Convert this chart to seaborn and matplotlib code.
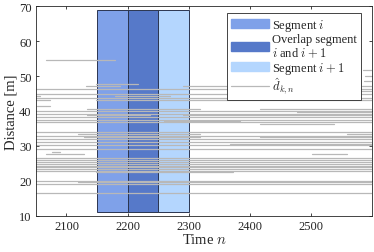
import matplotlib
matplotlib.use("Agg")
import matplotlib.pyplot as plt
import matplotlib.patches as mpatches
import pandas as pd
import seaborn as sns

# distance tracks: value [m], start n, end n
track_d = [54.6, 51.8, 49.9, 48.7, 47.7, 47.1, 47.1, 47.1, 46.3, 45.8,
           44.9, 44.2, 44.2, 43.6, 43.2, 43.2, 41.3, 40.6, 40.6, 40.1,
           39.6, 39.2, 38.7, 38.7, 38.2, 37.5, 37.2, 36.8, 36.3, 33.9,
           33.4, 33.4, 32.9, 32.5, 32.5, 32.0, 31.0, 30.6, 30.1, 29.1,
           28.2, 27.7, 27.7, 26.4, 25.8, 25.3, 24.8, 24.3, 23.8, 23.4,
           22.9, 22.4, 20.0, 19.6, 19.1, 16.5]
track_start = [2066, 2585, 2589, 2587, 2149, 2132, 2290, 2584, 2050, 2382,
               2050, 2050, 2180, 2050, 2050, 2149, 2051, 2133, 2417, 2050,
               2477, 2050, 2133, 2291, 2050, 2050, 2259, 2050, 2417, 2050,
               2119, 2559, 2050, 2128, 2417, 2050, 2050, 2368, 2050, 2050,
               2076, 2067, 2502, 2050, 2050, 2050, 2050, 2050, 2050, 2050,
               2050, 2149, 2050, 2119, 2050, 2050]
track_end = [2180, 2600, 2600, 2600, 2217, 2188, 2363, 2600, 2600, 2600,
             2600, 2057, 2270, 2600, 2073, 2600, 2073, 2319, 2600, 2600,
             2600, 2600, 2237, 2600, 2600, 2600, 2384, 2600, 2537, 2600,
             2319, 2600, 2600, 2319, 2600, 2600, 2600, 2600, 2600, 2600,
             2089, 2128, 2559, 2600, 2600, 2600, 2600, 2600, 2600, 2600,
             2600, 2373, 2600, 2600, 2600, 2600]

# processing segments
seg_labels = ["Segment $i$", "Overlap segment\n$i$ and $i+1$", "Segment $i+1$"]
seg_start = [2150, 2200, 2250]
seg_end = [2200, 2250, 2300]
seg_colors = ["#7fa1e9", "#5679c9", "#b4d6fe"]
seg_low, seg_high = 11, 69

rows = []
for k, (d, a, b) in enumerate(zip(track_d, track_start, track_end)):
    rows.append({"k": k, "n": a, "d": d})
    rows.append({"k": k, "n": b, "d": d})
df = pd.DataFrame(rows)

sns.set_theme(style="ticks")
plt.rcParams["font.family"] = ["Liberation Serif", "DejaVu Serif"]
plt.rcParams["mathtext.fontset"] = "cm"

fig = plt.figure(figsize=(3.74, 2.53), dpi=100)
ax = fig.add_axes([0.096, 0.144, 0.899, 0.827])

for s, e, c in zip(seg_start, seg_end, seg_colors):
    ax.bar((s + e) / 2, seg_high - seg_low, width=e - s, bottom=seg_low,
           color=c, edgecolor="#2b3550", linewidth=0.7, zorder=1)

sns.lineplot(data=df, x="n", y="d", units="k", estimator=None, ax=ax,
             color="#b8b8b8", linewidth=0.9, zorder=2, legend=False)

ax.set_xlim(2050, 2600)
ax.set_ylim(10, 70)
ax.set_xticks([2100, 2200, 2300, 2400, 2500])
ax.set_yticks([10, 20, 30, 40, 50, 60, 70])
ax.tick_params(direction="in", length=2.5, width=0.6, top=True, right=True,
               labelsize=9, colors="#262626", pad=3)
for sp in ax.spines.values():
    sp.set_color("#262626")
    sp.set_linewidth(0.6)
ax.set_xlabel("Time $n$", fontsize=10.5, labelpad=0, color="#262626")
ax.set_ylabel("Distance [m]", fontsize=10.5, labelpad=1, color="#262626")

handles = [mpatches.Patch(color=c, label=l) for c, l in zip(seg_colors, seg_labels)]
handles.append(plt.Line2D([], [], color="#b8b8b8", linewidth=0.9,
                          label=r"$\hat{d}_{k,n}$"))
leg = ax.legend(handles=handles, loc="upper right", bbox_to_anchor=(0.967, 0.968),
                fontsize=9, fancybox=False, framealpha=1, edgecolor="#262626",
                handlelength=3.0, handleheight=0.75, labelspacing=0.05,
                borderpad=0.3, handletextpad=0.3, borderaxespad=0)
leg.get_frame().set_linewidth(0.6)
leg.get_texts()[1].set_linespacing(1.0)

fig.savefig("out.png", dpi=100)
